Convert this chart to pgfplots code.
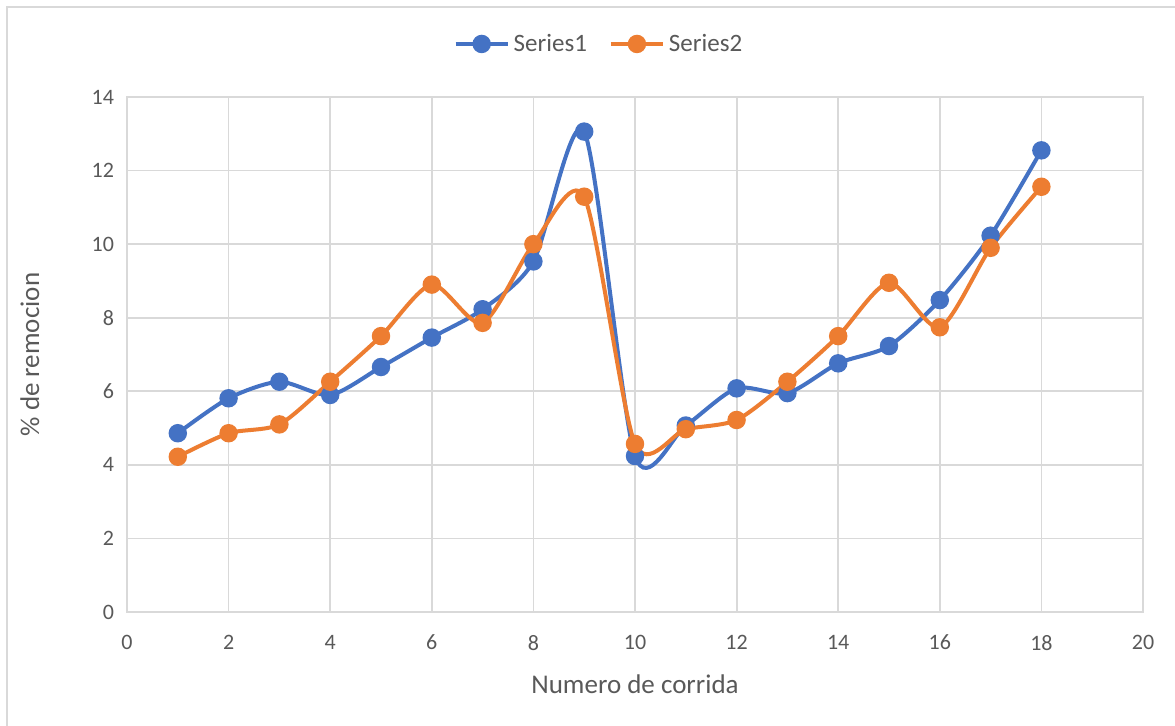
\documentclass[border=0pt]{standalone}
\usepackage{pgfplots}
\pgfplotsset{compat=1.18}
\usepackage{fontspec}
\setmainfont{Carlito}

\definecolor{sOne}{HTML}{4472C4}
\definecolor{sTwo}{HTML}{ED7D31}
\definecolor{gridc}{HTML}{D9D9D9}
\definecolor{txt}{HTML}{595959}

\pgfplotstableread{
x  a      b
1  4.86   4.22
2  5.81   4.86
3  6.26   5.10
4  5.90   6.26
5  6.66   7.50
6  7.46   8.90
7  8.23   7.86
8  9.53   10.00
9  13.06  11.29
10 4.24   4.57
11 5.07   4.97
12 6.08   5.22
13 5.95   6.26
14 6.76   7.50
15 7.23   8.95
16 8.48   7.74
17 10.23  9.90
18 12.55  11.56
}\corridas

\begin{document}
\begin{tikzpicture}[x=1pt,y=1pt]
\useasboundingbox (0,0) rectangle (587.5,362.5);
\fill[white] (0,0) rectangle (587.5,362.5);
% chart area frame
\draw[gridc, line width=0.75pt] (3.5,-1) -- (3.5,359) -- (590,359);
\begin{axis}[
  at={(63.5pt,56.5pt)}, anchor=south west,
  scale only axis, width=508pt, height=257.5pt,
  xmin=0, xmax=20, ymin=0, ymax=14,
  xtick={0,2,...,20}, ytick={0,2,...,14},
  grid=major,
  major grid style={gridc, line width=0.9pt},
  axis line style={gridc, line width=0.9pt},
  tick style={draw=none},
  ticklabel style={font=\fontsize{11}{13}\selectfont, text=txt},
  /pgf/number format/assume math mode=true,
  yticklabel style={xshift=-3pt},
  xticklabel style={yshift=-8pt},
  xlabel={Numero de corrida},
  ylabel={\% de remocion},
  label style={font=\fontsize{13.5}{16}\selectfont, text=txt},
  xlabel style={at={(axis description cs:0.5,-0.14)}, anchor=center},
  ylabel style={at={(axis description cs:-0.0955,0.5)}, anchor=center, rotate=0},
  legend style={at={(axis description cs:0.4655,1.103)}, anchor=center,
    legend columns=2, draw=none, fill=none,
    font=\fontsize{12.5}{15}\selectfont, text=txt,
    /tikz/every even column/.append style={column sep=9pt}},
  legend image code/.code={
    \draw[mark repeat=2,mark phase=2] plot coordinates {(0pt,0pt) (13pt,0pt) (26pt,0pt)};
  },
  every axis plot/.append style={line width=2pt, smooth, tension=0.45,
    mark=*, mark size=3.6pt, mark options={solid}},
]
\addplot[color=sOne] table[x=x, y=a] {\corridas};
\addlegendentry{Series1}
\addplot[color=sTwo] table[x=x, y=b] {\corridas};
\addlegendentry{Series2}
\end{axis}
\end{tikzpicture}
\end{document}
